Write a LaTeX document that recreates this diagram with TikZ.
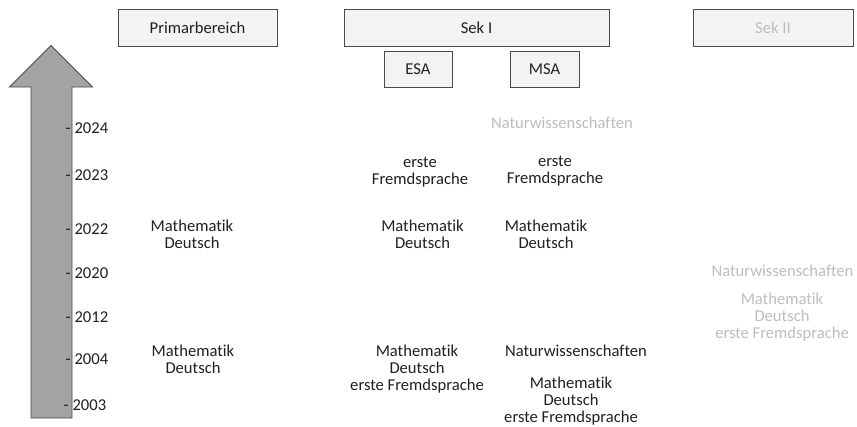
\documentclass[tikz,border=0pt]{standalone}
\usepackage{fontspec}
\setmainfont[RawFeature={-liga;-dlig}]{Carlito}
\begin{document}
\begin{tikzpicture}[x=1pt,y=-1pt,
  every node/.style={font=\fontsize{16.6}{16.6}\selectfont, text=txt, inner sep=0pt},
  stage/.style={draw=frame, fill=boxfill, line width=0.9pt},
  subj/.style={align=center},
  faded/.style={text=fade},
  year/.style={anchor=west}]
\definecolor{txt}{HTML}{202020}
\definecolor{fade}{HTML}{BDBDBD}
\definecolor{frame}{HTML}{4A4A4A}
\definecolor{boxfill}{HTML}{F3F3F3}
\definecolor{arrowfill}{HTML}{A3A3A3}
\useasboundingbox (0,0) rectangle (857,426);

% time arrow
\draw[draw=frame, fill=arrowfill, line width=0.9pt]
  (31,418) -- (31,87) -- (9.5,87) -- (51,45.5) -- (92.5,87) -- (72,87) -- (72,418) -- cycle;

% year marks
\node[year] (y2024) at (65.5,128) {- 2024};
\node[year] (y2023) at (65.5,175) {- 2023};
\node[year] (y2022) at (65.5,229) {- 2022};
\node[year] (y2020) at (65.5,273) {- 2020};
\node[year] (y2012) at (65.5,317) {- 2012};
\node[year] (y2004) at (65.5,359) {- 2004};
\node[year] (y2003) at (63.5,405) {- 2003};

% school stages
\node[stage, minimum width=159pt, minimum height=37pt] (prim) at (197.5,27.5) {Primarbereich};
\node[stage, minimum width=265pt, minimum height=37pt] (sek1) at (476.5,27.5) {Sek I};
\node[stage, minimum width=68pt, minimum height=36pt] (esa) at (418,69) {ESA};
\node[stage, minimum width=69pt, minimum height=36pt] (msa) at (544.5,69) {MSA};
\node[stage, minimum width=160pt, minimum height=37pt, faded] (sek2) at (773,27.5) {Sek II};

% subjects, primary level
\node[subj] (p22) at (192,234) {Mathematik\\Deutsch};
\node[subj] (p04) at (193,359) {Mathematik\\Deutsch};

% subjects, ESA
\node[subj] (e23) at (420,172) {erste\\Fremdsprache};
\node[subj] (e22) at (422.5,234) {Mathematik\\Deutsch};
\node[subj] (e04) at (417,369) {Mathematik\\Deutsch\\erste Fremdsprache};

% subjects, MSA
\node[subj, faded] (m24) at (562,123) {Naturwissenschaften};
\node[subj] (m23) at (555,171) {erste\\Fremdsprache};
\node[subj] (m22) at (546,234) {Mathematik\\Deutsch};
\node[subj] (m04n) at (576,351) {Naturwissenschaften};
\node[subj] (m04) at (571,401) {Mathematik\\Deutsch\\erste Fremdsprache};

% subjects, upper secondary
\node[subj, faded] (s20) at (782.5,271) {Naturwissenschaften};
\node[subj, faded] (s12) at (782,317) {Mathematik\\Deutsch\\erste Fremdsprache};
\end{tikzpicture}
\end{document}
